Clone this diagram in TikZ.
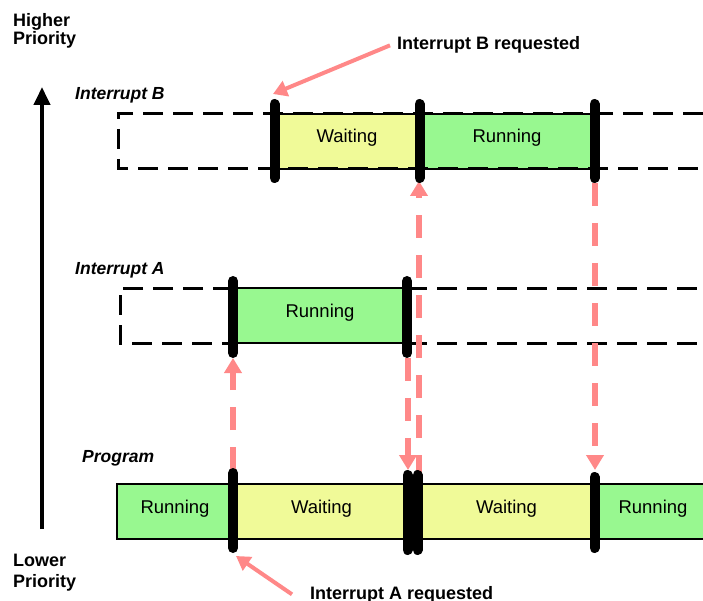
\documentclass[tikz,border=0pt]{standalone}
\usepackage{fontspec}
\setmainfont{Liberation Sans}
\usetikzlibrary{arrows.meta}
\definecolor{runcol}{RGB}{152,248,144}
\definecolor{waitcol}{RGB}{240,250,152}
\definecolor{reqcol}{RGB}{255,136,136}
\tikzset{
  box/.style={draw=black, line width=1.2pt, minimum height=55pt, inner sep=0pt,
    text height=13pt, text depth=10pt, font=\fontsize{18.5}{20}\selectfont},
  idle/.style={line width=3pt, dash pattern=on 20pt off 10pt},
  bar/.style={line width=10pt, line cap=round},
  flow/.style={reqcol, line width=6pt, dash pattern=on 23pt off 17pt,
    -{Triangle[width=17pt,length=15pt]}},
  note/.style={reqcol, line width=4pt, -{Triangle[width=16pt,length=14pt]}},
  lbl/.style={inner sep=0pt, anchor=base west, font=\bfseries\fontsize{18}{20}\selectfont},
  row/.style={lbl, font=\bfseries\itshape\fontsize{17.5}{20}\selectfont}
}
\begin{document}
\begin{tikzpicture}[x=1pt, y=-1pt]
    \useasboundingbox (0,0) rectangle (703,601);

    % priority axis
    \draw[line width=4pt, -{Triangle[width=16pt,length=18pt]}] (42,529) -- (42,87);
    \node[lbl] (hi1) at (13,27) {Higher};
    \node[lbl] (hi2) at (13,45) {Priority};
    \node[lbl] (lo1) at (13,566) {Lower};
    \node[lbl] (lo2) at (13,587) {Priority};

    % row labels
    \node[row] (labB) at (75,100) {Interrupt B};
    \node[row] (labA) at (75,275) {Interrupt A};
    \node[row] (labP) at (82,462) {Program};

    % interrupt B
    \node[box, fill=waitcol, minimum width=145pt] (bWait) at (347,141.5) {Waiting};
    \node[box, fill=runcol, minimum width=176pt] (bRun) at (507,141.5) {Running};
    \draw[idle] (703,114) -- (118,114) -- (118,169) -- (703,169);

    % interrupt A
    \node[box, fill=runcol, minimum width=174pt] (aRun) at (320,315.5) {Running};
    \draw[idle] (233,288) -- (120,288) -- (120,343) -- (233,343);
    \draw[idle] (407,288) -- (703,288);
    \draw[idle] (407,343) -- (703,343);

    % program
    \node[box, fill=runcol, minimum width=116pt] (pRun1) at (175,511.5) {Running};
    \node[box, fill=waitcol, minimum width=177pt] (pWait1) at (321.5,511.5) {Waiting};
    \node[box, fill=waitcol, minimum width=177pt] (pWait2) at (506.5,511.5) {Waiting};
    \node[box, fill=runcol, minimum width=116pt] (pRun2) at (653,511.5) {Running};

    % bar ends
    \coordinate (pA) at (233,470);
    \coordinate (aIn) at (233,358);
    \coordinate (aOut) at (408,358);
    \coordinate (pBack) at (408,470);
    \coordinate (pB) at (419,478);
    \coordinate (bIn) at (419,181);
    \coordinate (bOut) at (595,183);
    \coordinate (pEnd) at (595,470);

    % context switches
    \draw[flow] (pA) -- (aIn);
    \draw[flow] (aOut) -- (pBack);
    \draw[flow] (pB) -- (bIn);
    \draw[flow] (bOut) -- (pEnd);

    % switch bars
    \draw[bar] (274.5,104) -- (274.5,178);
    \draw[bar] (419.5,104) -- (419.5,178);
    \draw[bar] (594.5,104) -- (594.5,178);
    \draw[bar] (233,281) -- (233,353);
    \draw[bar] (407,281) -- (407,353);
    \draw[bar] (233,473) -- (233,548);
    \draw[bar] (407.5,475) -- (407.5,550);
    \draw[bar] (417.5,475) -- (417.5,550);
    \draw[bar] (594.5,477) -- (594.5,548);

    % requests
    \node[lbl] (reqB) at (397,50) {Interrupt B requested};
    \node[lbl] (reqA) at (310,599) {Interrupt A requested};
    \coordinate (reqBtip) at (273,94);
    \coordinate (reqAtip) at (236,556);
    \draw[note] ([xshift=-7pt]reqB.west) -- (reqBtip);
    \draw[note] ([xshift=-18pt]reqA.west) -- (reqAtip);
  \end{tikzpicture}
\end{document}
